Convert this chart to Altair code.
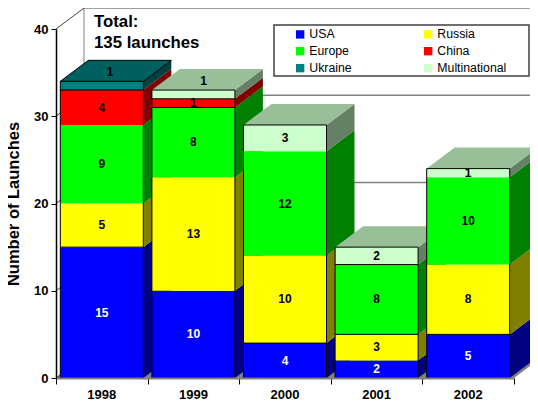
import altair as alt
import pandas as pd

years = ["1998", "1999", "2000", "2001", "2002"]
series = ["USA", "Russia", "Europe", "China", "Ukraine", "Multinational"]
usa = [15, 10, 4, 2, 5]
russia = [5, 13, 10, 3, 8]
europe = [9, 8, 12, 8, 10]
china = [4, 1, 0, 0, 0]
ukraine = [1, 0, 0, 0, 0]
multinational = [0, 1, 3, 2, 1]
front = ["#0000FF", "#FFFF00", "#00FF00", "#FF0000", "#008080", "#CCFFCC"]
top = ["#0000BF", "#BFBF00", "#00BF00", "#BF0000", "#006060", "#99BF99"]
side = ["#000080", "#808000", "#008000", "#800000", "#004040", "#668066"]
# Value boundaries at which the front faces show a black separator
separators = {"1998": [33, 15], "1999": [32, 31], "2000": [4], "2001": [13, 5], "2002": [5]}
# Labels that sit on the top face rather than on the front face
label_shift = {("1998", "Ukraine"): (0.09, 1.57), ("1999", "Multinational"): (0.11, 1.54)}
total_lines = ["Total:", "135 launches"]

DX = 28 / 91.6
DY = 21 / 8.725
BAR_W = 83 / 91.6
W, H = 458, 349
values = [usa, russia, europe, china, ukraine, multinational]

x_s = alt.Scale(domain=[0, 5], nice=False, zero=False)
y_s = alt.Scale(domain=[0, 40], nice=False, zero=False)
x_axis = alt.Axis(
    values=[0, 1, 2, 3, 4, 5], labels=False, ticks=True, tickSize=6, tickColor="#000000", tickWidth=1,
    domainColor="#808080", domainWidth=2, grid=False, title=None, zindex=1)
y_axis = alt.Axis(
    values=[0, 10, 20, 30, 40], tickSize=5, tickColor="#000000", domainColor="#000000", domainWidth=1.5,
    labelFont="Liberation Sans", labelFontWeight="bold", labelFontSize=13, labelColor="#000000",
    labelPadding=3, grid=False, title="Number of Launches", titleFont="Liberation Sans",
    titleFontWeight="bold", titleFontSize=16.5, titleColor="#000000", titleX=-34.5, titleY=174.5,
    zindex=1)
X = lambda f: alt.X(f, type="quantitative", scale=x_s, axis=x_axis)
Y = lambda f: alt.Y(f, type="quantitative", scale=y_s, axis=y_axis)
X2 = lambda f: alt.X2(f)
Y2 = lambda f: alt.Y2(f)


def para(x0, x1, y, key, fill, stroke="transparent"):
    pts = [(x0, y, y), (x0 + DX, y, y + DY), (x1, y, y + DY), (x1 + DX, y + DY, y + DY)]
    return [dict(x=a, lo=b, hi=c, key=key, fill=fill, stroke=stroke) for a, b, c in pts]


def area_layer(rows):
    return alt.Chart(pd.DataFrame(rows)).mark_area(orient="vertical", strokeWidth=1).encode(
        x=X("x"), y=Y("lo"), y2=Y2("hi"), detail="key:N",
        fill=alt.Fill("fill:N", scale=None),
        stroke=alt.Stroke("stroke:N", scale=None),
    )


# Walls and floor
floor = area_layer(para(0, 5, 0, "floor", "#808080"))
grid_rows = []
for v in [10, 20, 30, 40]:
    grid_rows.append(dict(x=DX, x2=5 + DX, y=v + DY))
grid = alt.Chart(pd.DataFrame(grid_rows)).mark_rule(color="#808080", strokeWidth=1.5).encode(
    x=X("x"), x2=X2("x2"), y=Y("y"))
wall_v = alt.Chart(pd.DataFrame([dict(x=DX, y=DY, y2=40 + DY)])).mark_rule(color="#808080", strokeWidth=1).encode(
    x=X("x"), y=Y("y"), y2=Y2("y2"))
diag_rows = []
for v in [0, 10, 20, 30, 40]:
    diag_rows += [dict(x=0, y=v, k=v), dict(x=DX, y=v + DY, k=v)]
diag = alt.Chart(pd.DataFrame(diag_rows)).mark_line(color="#404040", strokeWidth=1).encode(
    x=X("x"), y=Y("y"), detail="k:N")

layers = [floor, grid, wall_v, diag]

text_rows = []
for i, yr in enumerate(years):
    x0 = i + (1 - BAR_W) / 2
    x1 = x0 + BAR_W
    base = 0
    rects, faces = [], []
    for s, name in enumerate(series):
        v = values[s][i]
        if v == 0:
            continue
        rects.append(dict(x=x0, x2=x1, y=base, y2=base + v, series=name))
        faces += [
            dict(x=x1, lo=base, hi=base + v, key=name, fill=side[s], stroke="transparent"),
            dict(x=x1 + DX, lo=base + DY, hi=base + v + DY, key=name, fill=side[s], stroke="transparent"),
        ]
        sx, sy = label_shift.get((yr, name), (0, 0))
        text_rows.append(dict(x=i + 0.5 + sx, y=base + v / 2 + sy, t=str(v), c="white" if name == "USA" else "black"))
        base += v
        last = s
    stroke = "black" if yr == "1998" else "transparent"
    faces += para(x0, x1, base, "top", top[last], stroke)
    layers.append(area_layer(faces))
    layers.append(alt.Chart(pd.DataFrame(rects)).mark_rect().encode(
        x=X("x"), x2=X2("x2"), y=Y("y"), y2=Y2("y2"),
        color=alt.Color("series:N", scale=alt.Scale(domain=series, range=front), sort=series,
                        legend=alt.Legend(
                            title=None, orient="none", legendX=218, legendY=-7, columns=2, direction="horizontal",
                            symbolType="square", symbolSize=70, symbolStrokeWidth=0,
                            padding=6, columnPadding=56, rowPadding=4,
                            labelFont="Liberation Sans", labelFontSize=12.3, labelColor="#000000",
                            labelOffset=3, symbolOffset=14)),
    ))
    outline = pd.DataFrame([dict(x=x0, x2=x1, y=0, y2=base)])
    layers.append(alt.Chart(outline).mark_rect(filled=False, stroke="black", strokeWidth=1).encode(
        x=X("x"), x2=X2("x2"), y=Y("y"), y2=Y2("y2")))
    sep = pd.DataFrame([dict(x=x0, x2=x1, y=v) for v in separators[yr]])
    layers.append(alt.Chart(sep).mark_rule(color="black", strokeWidth=1).encode(
        x=X("x"), x2=X2("x2"), y=Y("y")))

labels = alt.Chart(pd.DataFrame(text_rows)).mark_text(
    font="Liberation Sans", fontWeight="bold", fontSize=12, baseline="middle").encode(
    x=X("x"), y=Y("y"), text="t:N", color=alt.Color("c:N", scale=None))
layers.append(labels)

year_labels = alt.Chart(pd.DataFrame(dict(x=[i + 0.5 for i in range(5)], t=years))).mark_text(
    font="Liberation Sans", fontWeight="bold", fontSize=13, baseline="middle").encode(
    x=X("x"), y=alt.value(H + 17), text="t:N")
layers.append(year_labels)

for line, py in zip(total_lines, [-7, 14]):
    layers.append(alt.Chart(pd.DataFrame(dict(t=[line]))).mark_text(
        font="Liberation Sans", fontWeight="bold", fontSize=16.8, align="left", baseline="middle").encode(
        x=alt.value(38), y=alt.value(py), text="t:N"))

# Legend frame behind the legend entries
layers.append(alt.Chart(pd.DataFrame(dict(a=[0]))).mark_rect(fill="white", stroke="#404040", strokeWidth=1.5).encode(
    x=alt.value(218), x2=alt.value(473), y=alt.value(-4), y2=alt.value(47)))

chart = alt.layer(*layers).resolve_scale(x="shared", y="shared").properties(
    width=W, height=H,
    padding={"left": 48, "top": 21, "right": 16, "bottom": 26},
    autosize=alt.AutoSizeParams(type="none"),
    background="white",
).configure_view(stroke=None)
chart.save("out.html", embed_options={"renderer": "svg", "actions": False})
